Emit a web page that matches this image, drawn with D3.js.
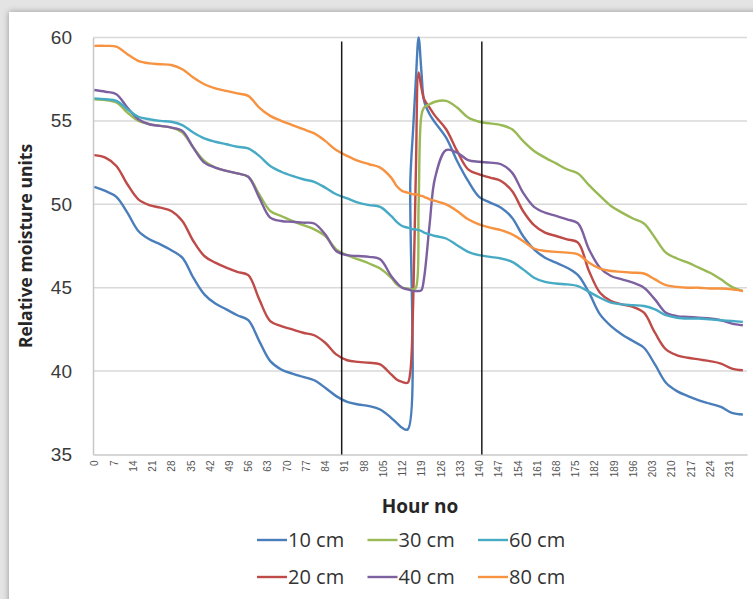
<!DOCTYPE html>
<html>
<head>
<meta charset="utf-8">
<script src="https://cdn.jsdelivr.net/npm/d3@7"></script>
<style>
  html, body { margin: 0; padding: 0; background: #e4e4e4; }
  svg { display: block; font-family: "Open Sans", sans-serif; }
</style>
</head>
<body>
<div id="chart"></div>
<script>
// hours sampled from the chart (finer around the irrigation spike)
var hours = [0,4,8,12,16,20,24,28,32,36,40,44,48,52,56,60,64,68,72,76,80,84,88,92,96,100,104,108,110,112,
  114,115,116,117,118,119,120,122,124,
  128,132,136,140,144,148,152,156,160,164,168,172,176,180,184,188,192,196,200,204,208,212,216,220,224,228,232,236];

var cm10 = [51.05,50.8,50.45,49.5,48.4,47.9,47.6,47.25,46.8,45.6,44.6,44.05,43.7,43.35,43.05,41.8,40.6,40.1,39.85,39.65,39.45,39.0,38.5,38.15,38.0,37.9,37.7,37.2,36.9,36.6,
  36.5,51.5,54.5,57.5,60,58.0,56.2,55.4,54.9,
  54.0,52.6,51.4,50.45,50.1,49.8,49.2,48.1,47.3,46.8,46.5,46.2,45.75,44.7,43.4,42.7,42.2,41.8,41.4,40.4,39.3,38.8,38.5,38.25,38.05,37.85,37.5,37.4];
var cm20 = [52.95,52.8,52.3,51.2,50.3,49.95,49.8,49.6,49.0,47.8,46.9,46.5,46.2,45.95,45.75,44.3,43.0,42.7,42.5,42.3,42.15,41.7,41.0,40.65,40.55,40.5,40.4,39.8,39.5,39.35,
  39.3,40.0,44.0,52.0,57.9,57.0,56.3,55.8,55.3,
  54.5,53.2,52.1,51.8,51.6,51.4,50.8,49.6,48.75,48.3,48.1,47.9,47.7,46.0,44.7,44.2,44.0,43.85,43.5,42.3,41.3,40.95,40.8,40.7,40.6,40.45,40.15,40.05];
var cm30 = [56.3,56.25,56.1,55.5,55.0,54.8,54.7,54.6,54.3,53.4,52.6,52.2,52.0,51.85,51.65,50.6,49.6,49.3,49.0,48.75,48.5,48.1,47.3,46.95,46.7,46.45,46.15,45.6,45.2,45.0,
  44.95,44.9,44.9,45.0,50.0,55.3,55.8,56.0,56.15,
  56.2,55.8,55.2,54.95,54.85,54.75,54.5,53.8,53.2,52.8,52.45,52.1,51.85,51.15,50.5,49.9,49.5,49.15,48.85,48.0,47.1,46.75,46.5,46.2,45.9,45.5,45.05,44.8];
var cm40 = [56.85,56.75,56.6,55.8,55.1,54.8,54.7,54.6,54.4,53.4,52.5,52.2,52.0,51.85,51.65,50.4,49.2,49.0,48.95,48.9,48.85,48.2,47.2,46.95,46.9,46.85,46.7,45.7,45.3,45.0,
  44.9,44.85,44.8,44.8,44.8,44.85,45.6,48.8,51.6,
  53.25,53.1,52.65,52.55,52.5,52.4,51.9,50.7,49.85,49.5,49.3,49.1,48.85,47.3,46.2,45.7,45.5,45.3,45.0,44.3,43.5,43.3,43.25,43.2,43.15,43.05,42.85,42.75];
var cm60 = [56.35,56.3,56.2,55.7,55.25,55.1,55.0,54.95,54.75,54.3,53.95,53.75,53.6,53.45,53.35,52.9,52.3,51.95,51.7,51.5,51.35,51.0,50.6,50.35,50.1,49.95,49.85,49.3,48.95,48.7,
  48.6,48.55,48.5,48.5,48.45,48.4,48.3,48.2,48.1,
  47.95,47.55,47.15,46.95,46.85,46.75,46.55,46.1,45.6,45.35,45.25,45.2,45.1,44.75,44.4,44.1,44.0,43.95,43.9,43.7,43.35,43.2,43.15,43.15,43.1,43.05,43.0,42.95];
var cm80 = [59.5,59.5,59.45,59.0,58.6,58.45,58.4,58.35,58.1,57.6,57.2,56.95,56.8,56.65,56.5,55.8,55.3,55.0,54.75,54.5,54.25,53.8,53.25,52.9,52.6,52.4,52.2,51.6,51.1,50.8,
  50.7,50.65,50.6,50.6,50.55,50.5,50.45,50.3,50.2,
  50.0,49.6,49.1,48.8,48.6,48.45,48.2,47.8,47.35,47.2,47.15,47.1,47.0,46.5,46.15,46.0,45.95,45.9,45.85,45.5,45.15,45.05,45.0,45.0,44.95,44.95,44.9,44.8];

var seriesNames = ["10 cm", "20 cm", "30 cm", "40 cm", "60 cm", "80 cm"];
var seriesValues = [cm10, cm20, cm30, cm40, cm60, cm80];
var colors = ["#4A7EBB", "#BE4B48", "#98B954", "#7D60A0", "#46AAC5", "#F69240"];

var hourTicks = [0,7,14,21,28,35,42,49,56,63,70,77,84,91,98,105,112,119,126,133,140,147,154,161,168,175,182,189,196,203,210,217,224,231];
var yTicks = [35, 40, 45, 50, 55, 60];
var markerHours = [90, 141]; // the two hand drawn black lines

var W = 753, H = 599;
var plot = {left: 93, right: 747, top: 37.5, bottom: 454.5};

var svg = d3.select("#chart").append("svg")
  .attr("width", W)
  .attr("height", H);

var defs = svg.append("defs");
var f = defs.append("filter").attr("id", "shadow")
  .attr("x", "-5%").attr("y", "-5%").attr("width", "110%").attr("height", "110%");
f.append("feDropShadow").attr("dx", 0).attr("dy", 0).attr("stdDeviation", 3)
  .attr("flood-color", "#000").attr("flood-opacity", 0.35);

// card
svg.append("rect")
  .attr("x", 9).attr("y", 12)
  .attr("width", W + 20).attr("height", H + 20)
  .attr("fill", "#fff")
  .attr("filter", "url(#shadow)");

var x = d3.scaleLinear().domain([-0.5, 237.5]).range([plot.left, plot.right]);
var y = d3.scaleLinear().domain([35, 60]).range([plot.bottom, plot.top]);

// gridlines
svg.append("g")
  .selectAll("line")
  .data(yTicks.slice(1))
  .enter().append("line")
    .attr("x1", plot.left).attr("x2", plot.right)
    .attr("y1", function(d){ return y(d); })
    .attr("y2", function(d){ return y(d); })
    .attr("stroke", "#d9d9d9")
    .attr("stroke-width", 1.5);

// y axis
var yAxis = d3.axisLeft(y).tickValues(yTicks).tickSize(0).tickPadding(21);
var gy = svg.append("g")
  .attr("transform", "translate(" + plot.left + ",0)")
  .call(yAxis);
gy.select(".domain").attr("stroke", "#c8c8c8").attr("stroke-width", 1.5);
gy.selectAll("text")
  .attr("fill", "#3a3a3a")
  .style("font-size", "19px");

// x axis
var xAxis = d3.axisBottom(x).tickValues(hourTicks).tickSize(0);
var gx = svg.append("g")
  .attr("transform", "translate(0," + plot.bottom + ")")
  .call(xAxis);
gx.select(".domain").attr("stroke", "#c8c8c8").attr("stroke-width", 1.5);
gx.selectAll("text")
  .attr("fill", "#555")
  .style("font-size", "10px")
  .style("text-anchor", "end")
  .attr("transform", "rotate(-90)")
  .attr("x", -6)
  .attr("y", 0)
  .attr("dy", "0.35em");

// axis titles
svg.append("text")
  .attr("transform", "translate(26," + (plot.top + plot.bottom) / 2 + ") rotate(-90)")
  .attr("text-anchor", "middle")
  .attr("dy", "0.35em")
  .style("font-size", "17.5px")
  .style("font-weight", "bold")
  .attr("fill", "#262626")
  .text("Relative moisture units");

svg.append("text")
  .attr("x", 420).attr("y", 506)
  .attr("text-anchor", "middle")
  .attr("dy", "0.35em")
  .style("font-size", "19px")
  .style("font-weight", "bold")
  .attr("fill", "#262626")
  .text("Hour no");

// series
var line = d3.line()
  .x(function(d){ return x(d[0]); })
  .y(function(d){ return y(d[1]); })
  .curve(d3.curveCatmullRom.alpha(0.5));

svg.append("g")
  .selectAll("path")
  .data(seriesValues)
  .enter().append("path")
    .attr("d", function(vals){
      return line(hours.map(function(h, i){ return [h, vals[i]]; }));
    })
    .attr("fill", "none")
    .attr("stroke", function(d, i){ return colors[i]; })
    .attr("stroke-width", 2.4)
    .attr("stroke-linejoin", "round");

// vertical marker lines
svg.append("g")
  .selectAll("line")
  .data(markerHours)
  .enter().append("line")
    .attr("x1", function(d){ return x(d); })
    .attr("x2", function(d){ return x(d); })
    .attr("y1", plot.top + 4)
    .attr("y2", plot.bottom)
    .attr("stroke", "#1a1a1a")
    .attr("stroke-width", 1.5);

// legend, filled column by column
var legend = svg.append("g")
  .selectAll("g")
  .data(seriesNames)
  .enter().append("g")
    .attr("transform", function(d, i){
      var col = Math.floor(i / 2), row = i % 2;
      return "translate(" + (257 + col * 110.5) + "," + (540 + row * 37) + ")";
    });
legend.append("line")
  .attr("x1", 0).attr("x2", 30)
  .attr("y1", 0).attr("y2", 0)
  .attr("stroke", function(d, i){ return colors[i]; })
  .attr("stroke-width", 2.4);
legend.append("text")
  .attr("x", 31)
  .attr("dy", "0.35em")
  .style("font-size", "20px")
  .attr("fill", "#333")
  .text(function(d){ return d; });
</script>
</body>
</html>
